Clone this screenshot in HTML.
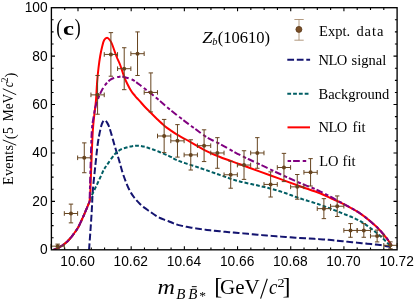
<!DOCTYPE html>
<html><head><meta charset="utf-8"><title>plot</title>
<style>
html,body{margin:0;padding:0;background:#fff;}
body{width:415px;height:304px;overflow:hidden;font-family:"Liberation Sans",sans-serif;}
svg{display:block;will-change:transform;}
.tk{font-family:"Liberation Sans",sans-serif;font-size:14.2px;fill:#000;}
.se{font-family:"Liberation Serif",serif;fill:#000;}
</style></head><body>
<svg width="415" height="304" viewBox="0 0 415 304">
<rect width="415" height="304" fill="#fff"/>
<defs><clipPath id="cp"><rect x="51.4" y="7.7" width="345.7" height="242.1"/></clipPath></defs>
<g clip-path="url(#cp)" fill="none" stroke-linejoin="round">
<path d="M89.10 249.00 C89.33 245.83 90.05 236.50 90.50 230.00 C90.95 223.50 91.42 216.50 91.80 210.00 C92.18 203.50 92.23 198.17 92.80 191.00 C93.37 183.83 94.37 174.92 95.20 167.00 C96.03 159.08 96.92 149.83 97.80 143.50 C98.68 137.17 99.72 132.50 100.50 129.00 C101.28 125.50 101.80 123.95 102.50 122.50 C103.20 121.05 103.95 120.30 104.70 120.30 C105.45 120.30 106.17 121.13 107.00 122.50 C107.83 123.87 108.43 124.67 109.70 128.50 C110.97 132.33 113.05 140.25 114.60 145.50 C116.15 150.75 117.48 154.92 119.00 160.00 C120.52 165.08 121.78 170.67 123.70 176.00 C125.62 181.33 127.78 187.33 130.50 192.00 C133.22 196.67 136.42 200.50 140.00 204.00 C143.58 207.50 148.67 210.67 152.00 213.00 C155.33 215.33 157.33 216.67 160.00 218.00 C162.67 219.33 164.67 219.77 168.00 221.00 C171.33 222.23 174.67 224.07 180.00 225.40 C185.33 226.73 193.33 228.02 200.00 229.00 C206.67 229.98 212.83 230.57 220.00 231.30 C227.17 232.03 233.00 232.52 243.00 233.40 C253.00 234.28 266.67 235.60 280.00 236.60 C293.33 237.60 313.00 238.67 323.00 239.40 C333.00 240.13 333.83 240.40 340.00 241.00 C346.17 241.60 353.33 242.33 360.00 243.00 C366.67 243.67 375.00 244.33 380.00 245.00 C385.00 245.67 388.33 246.67 390.00 247.00" stroke="#141470" stroke-width="2.0" stroke-dasharray="4.75 4.75" stroke-linecap="square"/>
<path d="M54.00 249.60 C54.58 249.38 56.40 248.82 57.50 248.30 C58.60 247.78 59.40 247.27 60.60 246.50 C61.80 245.73 63.33 244.78 64.70 243.70 C66.07 242.62 67.43 241.45 68.80 240.00 C70.17 238.55 71.53 236.78 72.90 235.00 C74.27 233.22 75.95 230.90 77.00 229.30 C78.05 227.70 77.88 228.15 79.20 225.40 C80.52 222.65 83.17 216.78 84.90 212.80 C86.63 208.82 88.82 203.38 89.60 201.50 L89.60 201.50 C90.00 200.42 90.97 197.42 92.00 195.00 C93.03 192.58 94.47 189.83 95.80 187.00 C97.13 184.17 98.68 180.83 100.00 178.00 C101.32 175.17 102.55 172.17 103.70 170.00 C104.85 167.83 105.08 167.60 106.90 165.00 C108.72 162.40 112.42 156.92 114.60 154.40 C116.78 151.88 117.90 151.08 120.00 149.90 C122.10 148.72 125.03 147.93 127.20 147.30 C129.37 146.67 131.13 146.35 133.00 146.10 C134.87 145.85 136.47 145.70 138.40 145.80 C140.33 145.90 142.73 146.27 144.60 146.70 C146.47 147.13 147.87 147.82 149.60 148.40 C151.33 148.98 151.77 148.93 155.00 150.20 C158.23 151.47 165.00 154.20 169.00 156.00 C173.00 157.80 173.83 159.00 179.00 161.00 C184.17 163.00 193.17 165.67 200.00 168.00 C206.83 170.33 213.67 172.83 220.00 175.00 C226.33 177.17 231.33 179.17 238.00 181.00 C244.67 182.83 253.00 184.28 260.00 186.00 C267.00 187.72 273.33 189.23 280.00 191.30 C286.67 193.37 293.33 196.17 300.00 198.40 C306.67 200.63 314.17 202.70 320.00 204.70 C325.83 206.70 331.00 208.85 335.00 210.40 C339.00 211.95 341.00 212.80 344.00 214.00 C347.00 215.20 350.00 216.23 353.00 217.60 C356.00 218.97 359.00 220.38 362.00 222.20 C365.00 224.02 368.00 226.23 371.00 228.50 C374.00 230.77 377.55 233.68 380.00 235.80 C382.45 237.92 384.12 239.67 385.70 241.20 C387.28 242.73 388.87 244.37 389.50 245.00" stroke="#005e64" stroke-width="2.0" stroke-dasharray="1.8 4" stroke-linecap="square"/>
<path d="M54.00 249.60 C54.58 249.38 56.40 248.82 57.50 248.30 C58.60 247.78 59.40 247.27 60.60 246.50 C61.80 245.73 63.33 244.78 64.70 243.70 C66.07 242.62 67.43 241.45 68.80 240.00 C70.17 238.55 71.53 236.78 72.90 235.00 C74.27 233.22 75.95 230.90 77.00 229.30 C78.05 227.70 77.88 228.15 79.20 225.40 C80.52 222.65 83.17 216.78 84.90 212.80 C86.63 208.82 88.82 203.38 89.60 201.50 L89.60 201.50 C89.73 199.58 90.12 196.08 90.40 190.00 C90.68 183.92 90.90 174.83 91.30 165.00 C91.70 155.17 92.30 139.33 92.80 131.00 C93.30 122.67 93.77 120.17 94.30 115.00 C94.83 109.83 95.52 105.67 96.00 100.00 C96.48 94.33 96.78 86.33 97.20 81.00 C97.62 75.67 98.00 72.17 98.50 68.00 C99.00 63.83 99.57 59.67 100.20 56.00 C100.83 52.33 101.63 48.67 102.30 46.00 C102.97 43.33 103.40 41.37 104.20 40.00 C105.00 38.63 106.17 37.80 107.10 37.80 C108.03 37.80 108.95 38.88 109.80 40.00 C110.65 41.12 111.12 41.83 112.20 44.50 C113.28 47.17 114.97 52.58 116.30 56.00 C117.63 59.42 118.88 61.53 120.20 65.00 C121.52 68.47 122.98 73.60 124.20 76.80 C125.42 80.00 126.30 81.78 127.50 84.20 C128.70 86.62 130.15 89.37 131.40 91.30 C132.65 93.23 133.90 94.48 135.00 95.80 C136.10 97.12 137.17 98.27 138.00 99.20 C138.83 100.13 138.83 100.10 140.00 101.40 C141.17 102.70 143.25 105.15 145.00 107.00 C146.75 108.85 148.50 110.50 150.50 112.50 C152.50 114.50 154.70 116.80 157.00 119.00 C159.30 121.20 161.97 123.77 164.30 125.70 C166.63 127.63 168.80 129.07 171.00 130.60 C173.20 132.13 175.00 133.42 177.50 134.90 C180.00 136.38 181.42 136.93 186.00 139.50 C190.58 142.07 199.33 147.38 205.00 150.30 C210.67 153.22 214.17 154.67 220.00 157.00 C225.83 159.33 233.33 161.87 240.00 164.30 C246.67 166.73 253.33 169.17 260.00 171.60 C266.67 174.03 273.33 176.47 280.00 178.90 C286.67 181.33 293.33 183.80 300.00 186.20 C306.67 188.60 314.67 191.20 320.00 193.30 C325.33 195.40 328.67 197.30 332.00 198.80 C335.33 200.30 335.33 199.88 340.00 202.30 C344.67 204.72 354.00 209.30 360.00 213.30 C366.00 217.30 371.67 222.30 376.00 226.30 C380.33 230.30 383.50 234.27 386.00 237.30 C388.50 240.33 390.17 243.30 391.00 244.50" stroke="#ff0000" stroke-width="2.0" stroke-linecap="round"/>
<path d="M54.00 249.60 C54.58 249.38 56.40 248.82 57.50 248.30 C58.60 247.78 59.40 247.27 60.60 246.50 C61.80 245.73 63.33 244.78 64.70 243.70 C66.07 242.62 67.43 241.45 68.80 240.00 C70.17 238.55 71.53 236.78 72.90 235.00 C74.27 233.22 75.95 230.90 77.00 229.30 C78.05 227.70 77.88 228.15 79.20 225.40 C80.52 222.65 83.17 216.78 84.90 212.80 C86.63 208.82 88.82 203.38 89.60 201.50 L89.60 201.50 C89.65 199.58 89.73 196.08 89.90 190.00 C90.07 183.92 90.28 174.83 90.60 165.00 C90.92 155.17 91.30 139.00 91.80 131.00 C92.30 123.00 92.85 121.50 93.60 117.00 C94.35 112.50 94.90 108.50 96.30 104.00 C97.70 99.50 99.72 94.00 102.00 90.00 C104.28 86.00 107.00 82.23 110.00 80.00 C113.00 77.77 117.50 77.05 120.00 76.60 C122.50 76.15 122.83 76.73 125.00 77.30 C127.17 77.87 130.67 78.83 133.00 80.00 C135.33 81.17 135.33 81.50 139.00 84.30 C142.67 87.10 150.00 92.72 155.00 96.80 C160.00 100.88 164.33 104.97 169.00 108.80 C173.67 112.63 178.67 116.47 183.00 119.80 C187.33 123.13 190.83 125.77 195.00 128.80 C199.17 131.83 203.83 135.47 208.00 138.00 C212.17 140.53 214.67 141.17 220.00 144.00 C225.33 146.83 233.33 151.58 240.00 155.00 C246.67 158.42 253.33 161.33 260.00 164.50 C266.67 167.67 273.33 170.92 280.00 174.00 C286.67 177.08 293.33 180.12 300.00 183.00 C306.67 185.88 312.83 187.87 320.00 191.30 C327.17 194.73 336.33 199.93 343.00 203.60 C349.67 207.27 354.50 209.52 360.00 213.30 C365.50 217.08 371.67 222.30 376.00 226.30 C380.33 230.30 383.50 234.27 386.00 237.30 C388.50 240.33 390.17 243.30 391.00 244.50" stroke="#800080" stroke-width="2.0" stroke-dasharray="1.5 4 4.7 4.9" stroke-linecap="square"/>
</g>
<g stroke="#66441f" stroke-width="1" fill="none">
<path d="M57.66 244.11 V248.23 M55.46 244.11 H59.86 M55.46 248.23 H59.86 M51.01 246.17 H64.30 M51.01 243.87 V248.47 M64.30 243.87 V248.47"/><circle cx="57.66" cy="246.17" r="2.0" fill="#66441f" stroke="none"/>
<path d="M70.97 204.11 V222.86 M68.77 204.11 H73.17 M68.77 222.86 H73.17 M64.32 213.49 H77.62 M64.32 211.19 V215.79 M77.62 211.19 V215.79"/><circle cx="70.97" cy="213.49" r="2.0" fill="#66441f" stroke="none"/>
<path d="M84.28 142.88 V172.73 M82.08 142.88 H86.48 M82.08 172.73 H86.48 M77.63 157.80 H90.93 M77.63 155.50 V160.10 M90.93 155.50 V160.10"/><circle cx="84.28" cy="157.80" r="2.0" fill="#66441f" stroke="none"/>
<path d="M97.59 75.49 V114.22 M95.39 75.49 H99.79 M95.39 114.22 H99.79 M90.94 94.86 H104.24 M90.94 92.56 V97.16 M104.24 92.56 V97.16"/><circle cx="97.59" cy="94.86" r="2.0" fill="#66441f" stroke="none"/>
<path d="M110.90 32.64 V76.21 M108.70 32.64 H113.10 M108.70 76.21 H113.10 M104.25 54.43 H117.55 M104.25 52.13 V56.73 M117.55 52.13 V56.73"/><circle cx="110.90" cy="54.43" r="2.0" fill="#66441f" stroke="none"/>
<path d="M124.21 47.74 V89.68 M122.01 47.74 H126.41 M122.01 89.68 H126.41 M117.57 68.71 H130.86 M117.57 66.41 V71.01 M130.86 66.41 V71.01"/><circle cx="124.21" cy="68.71" r="2.0" fill="#66441f" stroke="none"/>
<path d="M137.53 31.91 V75.49 M135.33 31.91 H139.73 M135.33 75.49 H139.73 M130.88 53.70 H144.17 M130.88 51.40 V56.00 M144.17 51.40 V56.00"/><circle cx="137.53" cy="53.70" r="2.0" fill="#66441f" stroke="none"/>
<path d="M150.84 72.92 V111.95 M148.64 72.92 H153.04 M148.64 111.95 H153.04 M144.19 92.44 H157.48 M144.19 90.14 V94.73 M157.48 90.14 V94.73"/><circle cx="150.84" cy="92.44" r="2.0" fill="#66441f" stroke="none"/>
<path d="M164.15 119.42 V152.61 M161.95 119.42 H166.35 M161.95 152.61 H166.35 M157.50 136.01 H170.80 M157.50 133.71 V138.31 M170.80 133.71 V138.31"/><circle cx="164.15" cy="136.01" r="2.0" fill="#66441f" stroke="none"/>
<path d="M177.46 124.61 V157.10 M175.26 124.61 H179.66 M175.26 157.10 H179.66 M170.81 140.85 H184.11 M170.81 138.55 V143.16 M184.11 138.55 V143.16"/><circle cx="177.46" cy="140.85" r="2.0" fill="#66441f" stroke="none"/>
<path d="M190.77 139.78 V170.02 M188.57 139.78 H192.97 M188.57 170.02 H192.97 M184.12 154.90 H197.42 M184.12 152.60 V157.20 M197.42 152.60 V157.20"/><circle cx="190.77" cy="154.90" r="2.0" fill="#66441f" stroke="none"/>
<path d="M204.08 129.82 V161.57 M201.88 129.82 H206.28 M201.88 161.57 H206.28 M197.43 145.70 H210.73 M197.43 143.40 V148.00 M210.73 143.40 V148.00"/><circle cx="204.08" cy="145.70" r="2.0" fill="#66441f" stroke="none"/>
<path d="M217.39 137.65 V168.27 M215.19 137.65 H219.59 M215.19 168.27 H219.59 M210.75 152.96 H224.04 M210.75 150.66 V155.26 M224.04 150.66 V155.26"/><circle cx="217.39" cy="152.96" r="2.0" fill="#66441f" stroke="none"/>
<path d="M230.71 161.27 V188.23 M228.51 161.27 H232.91 M228.51 188.23 H232.91 M224.06 174.75 H237.35 M224.06 172.45 V177.05 M237.35 172.45 V177.05"/><circle cx="230.71" cy="174.75" r="2.0" fill="#66441f" stroke="none"/>
<path d="M244.02 150.74 V179.39 M241.82 150.74 H246.22 M241.82 179.39 H246.22 M237.37 165.06 H250.67 M237.37 162.76 V167.37 M250.67 162.76 V167.37"/><circle cx="244.02" cy="165.06" r="2.0" fill="#66441f" stroke="none"/>
<path d="M257.33 137.65 V168.27 M255.13 137.65 H259.53 M255.13 168.27 H259.53 M250.68 152.96 H263.98 M250.68 150.66 V155.26 M263.98 150.66 V155.26"/><circle cx="257.33" cy="152.96" r="2.0" fill="#66441f" stroke="none"/>
<path d="M270.64 171.85 V197.01 M268.44 171.85 H272.84 M268.44 197.01 H272.84 M263.99 184.43 H277.29 M263.99 182.13 V186.73 M277.29 182.13 V186.73"/><circle cx="270.64" cy="184.43" r="2.0" fill="#66441f" stroke="none"/>
<path d="M283.95 153.37 V181.60 M281.75 153.37 H286.15 M281.75 181.60 H286.15 M277.30 167.49 H290.60 M277.30 165.19 V169.79 M290.60 165.19 V169.79"/><circle cx="283.95" cy="167.49" r="2.0" fill="#66441f" stroke="none"/>
<path d="M297.26 174.51 V199.20 M295.06 174.51 H299.46 M295.06 199.20 H299.46 M290.62 186.85 H303.91 M290.62 184.55 V189.15 M303.91 184.55 V189.15"/><circle cx="297.26" cy="186.85" r="2.0" fill="#66441f" stroke="none"/>
<path d="M310.58 158.63 V186.02 M308.38 158.63 H312.78 M308.38 186.02 H312.78 M303.93 172.33 H317.22 M303.93 170.03 V174.63 M317.22 170.03 V174.63"/><circle cx="310.58" cy="172.33" r="2.0" fill="#66441f" stroke="none"/>
<path d="M323.89 198.66 V218.63 M321.69 198.66 H326.09 M321.69 218.63 H326.09 M317.24 208.64 H330.53 M317.24 206.34 V210.94 M330.53 206.34 V210.94"/><circle cx="323.89" cy="208.64" r="2.0" fill="#66441f" stroke="none"/>
<path d="M337.20 195.95 V216.49 M335.00 195.95 H339.40 M335.00 216.49 H339.40 M330.55 206.22 H343.85 M330.55 203.92 V208.52 M343.85 203.92 V208.52"/><circle cx="337.20" cy="206.22" r="2.0" fill="#66441f" stroke="none"/>
<path d="M350.51 223.58 V237.28 M348.31 223.58 H352.71 M348.31 237.28 H352.71 M343.86 230.43 H357.16 M343.86 228.13 V232.73 M357.16 228.13 V232.73"/><circle cx="350.51" cy="230.43" r="2.0" fill="#66441f" stroke="none"/>
<path d="M363.82 223.58 V237.28 M361.62 223.58 H366.02 M361.62 237.28 H366.02 M357.17 230.43 H370.47 M357.17 228.13 V232.73 M370.47 228.13 V232.73"/><circle cx="363.82" cy="230.43" r="2.0" fill="#66441f" stroke="none"/>
<path d="M377.13 230.07 V241.93 M374.93 230.07 H379.33 M374.93 241.93 H379.33 M370.48 236.00 H383.78 M370.48 233.70 V238.30 M383.78 233.70 V238.30"/><circle cx="377.13" cy="236.00" r="2.0" fill="#66441f" stroke="none"/>
<path d="M390.44 241.90 V248.74 M388.24 241.90 H392.64 M388.24 248.74 H392.64 M383.80 245.32 H397.09 M383.80 243.02 V247.62 M397.09 243.02 V247.62"/><circle cx="390.44" cy="245.32" r="2.0" fill="#66441f" stroke="none"/>
</g>
<g stroke="#000" stroke-width="1.35" fill="none">
<rect x="51.40" y="7.70" width="345.70" height="242.10"/>
<path d="M64.70 249.80 v-2.20 M64.70 7.70 v2.20 M77.99 249.80 v-3.60 M77.99 7.70 v3.60 M91.29 249.80 v-2.20 M91.29 7.70 v2.20 M104.58 249.80 v-2.20 M104.58 7.70 v2.20 M117.88 249.80 v-2.20 M117.88 7.70 v2.20 M131.18 249.80 v-3.60 M131.18 7.70 v3.60 M144.47 249.80 v-2.20 M144.47 7.70 v2.20 M157.77 249.80 v-2.20 M157.77 7.70 v2.20 M171.07 249.80 v-2.20 M171.07 7.70 v2.20 M184.36 249.80 v-3.60 M184.36 7.70 v3.60 M197.66 249.80 v-2.20 M197.66 7.70 v2.20 M210.95 249.80 v-2.20 M210.95 7.70 v2.20 M224.25 249.80 v-2.20 M224.25 7.70 v2.20 M237.55 249.80 v-3.60 M237.55 7.70 v3.60 M250.84 249.80 v-2.20 M250.84 7.70 v2.20 M264.14 249.80 v-2.20 M264.14 7.70 v2.20 M277.43 249.80 v-2.20 M277.43 7.70 v2.20 M290.73 249.80 v-3.60 M290.73 7.70 v3.60 M304.03 249.80 v-2.20 M304.03 7.70 v2.20 M317.32 249.80 v-2.20 M317.32 7.70 v2.20 M330.62 249.80 v-2.20 M330.62 7.70 v2.20 M343.92 249.80 v-3.60 M343.92 7.70 v3.60 M357.21 249.80 v-2.20 M357.21 7.70 v2.20 M370.51 249.80 v-2.20 M370.51 7.70 v2.20 M383.80 249.80 v-2.20 M383.80 7.70 v2.20 M51.40 237.70 h2.20 M397.10 237.70 h-2.20 M51.40 225.59 h2.20 M397.10 225.59 h-2.20 M51.40 213.49 h2.20 M397.10 213.49 h-2.20 M51.40 201.38 h3.60 M397.10 201.38 h-3.60 M51.40 189.28 h2.20 M397.10 189.28 h-2.20 M51.40 177.17 h2.20 M397.10 177.17 h-2.20 M51.40 165.06 h2.20 M397.10 165.06 h-2.20 M51.40 152.96 h3.60 M397.10 152.96 h-3.60 M51.40 140.85 h2.20 M397.10 140.85 h-2.20 M51.40 128.75 h2.20 M397.10 128.75 h-2.20 M51.40 116.64 h2.20 M397.10 116.64 h-2.20 M51.40 104.54 h3.60 M397.10 104.54 h-3.60 M51.40 92.44 h2.20 M397.10 92.44 h-2.20 M51.40 80.33 h2.20 M397.10 80.33 h-2.20 M51.40 68.23 h2.20 M397.10 68.23 h-2.20 M51.40 56.12 h3.60 M397.10 56.12 h-3.60 M51.40 44.01 h2.20 M397.10 44.01 h-2.20 M51.40 31.91 h2.20 M397.10 31.91 h-2.20 M51.40 19.80 h2.20 M397.10 19.80 h-2.20 " stroke-width="1.1"/>
</g>
<text class="tk" transform="translate(77.59 265.6) scale(0.97 1)" text-anchor="middle">10.60</text>
<text class="tk" transform="translate(130.78 265.6) scale(0.97 1)" text-anchor="middle">10.62</text>
<text class="tk" transform="translate(183.96 265.6) scale(0.97 1)" text-anchor="middle">10.64</text>
<text class="tk" transform="translate(237.15 265.6) scale(0.97 1)" text-anchor="middle">10.66</text>
<text class="tk" transform="translate(290.33 265.6) scale(0.97 1)" text-anchor="middle">10.68</text>
<text class="tk" transform="translate(343.52 265.6) scale(0.97 1)" text-anchor="middle">10.70</text>
<text class="tk" transform="translate(396.70 265.6) scale(0.97 1)" text-anchor="middle">10.72</text>
<text class="tk" transform="translate(47.6 254.20) scale(0.97 1)" text-anchor="end">0</text>
<text class="tk" transform="translate(47.6 205.78) scale(0.97 1)" text-anchor="end">20</text>
<text class="tk" transform="translate(47.6 157.36) scale(0.97 1)" text-anchor="end">40</text>
<text class="tk" transform="translate(47.6 108.94) scale(0.97 1)" text-anchor="end">60</text>
<text class="tk" transform="translate(47.6 60.52) scale(0.97 1)" text-anchor="end">80</text>
<text class="tk" transform="translate(47.6 12.10) scale(0.97 1)" text-anchor="end">100</text>
<g>
<path d="M299 19.5 V40.2 M294.4 19.5 H303.7 M294.4 40.2 H303.7" stroke="#a08060" stroke-width="0.8" fill="none"/>
<circle cx="298.9" cy="29.4" r="3.0" fill="#7a4e26" stroke="#5a3a1c" stroke-width="0.8"/>
<path d="M288.3 59.8 H309.1" stroke="#141470" stroke-width="2" stroke-dasharray="4.75 4.75" stroke-linecap="square" fill="none"/>
<path d="M288.3 93.7 H309.1" stroke="#005e64" stroke-width="2" stroke-dasharray="1.8 4" stroke-linecap="square" fill="none"/>
<path d="M288.5 127.35 H309" stroke="#ff0000" stroke-width="2" stroke-linecap="square" fill="none"/>
<path d="M288.6 161.1 H309.1" stroke="#800080" stroke-width="2" stroke-dasharray="1.5 4 4.7 4.9" stroke-linecap="square" fill="none"/>
<text class="se" font-size="14.5" y="35.6"><tspan x="319.1">Expt.</tspan><tspan x="356.4" letter-spacing="0.95">data</tspan></text>
<text class="se" font-size="14.5" y="65"><tspan x="318.6" letter-spacing="-0.6">NLO</tspan><tspan x="351.6">signal</tspan></text>
<text class="se" font-size="14.5" y="99" x="318.5">Background</text>
<text class="se" font-size="14.5" y="132.4"><tspan x="318.6" letter-spacing="-0.6">NLO</tspan><tspan x="352.6">fit</tspan></text>
<text class="se" font-size="14.5" y="166"><tspan x="319.2">LO</tspan><tspan x="342.6">fit</tspan></text>
</g>
<text class="se" transform="translate(56.3 35) scale(0.78 1)" font-size="23">(</text>
<text class="se" transform="translate(63.0 34.6) scale(1.27 1)" font-size="19.5" font-weight="bold">c</text>
<text class="se" transform="translate(74.7 35) scale(0.78 1)" font-size="23">)</text>
<text class="se" transform="translate(202.3 42.5) scale(1.12 1)" font-size="16.5" font-style="italic">Z</text>
<text class="se" x="212.2" y="45.4" font-size="10.5" font-style="italic">b</text>
<text class="se" x="217.8" y="42.5" font-size="16.5">(10610)</text>
<text class="se" transform="translate(157.60 294.30) scale(1.150 1.000)" font-size="21.0" font-style="italic">m</text>
<text class="se" transform="translate(176.20 298.80) scale(1.100 1.000)" font-size="13.6" font-style="italic">B</text>
<text class="se" transform="translate(188.30 298.80) scale(1.100 1.000)" font-size="13.6" font-style="italic">B</text>
<path d="M191.8 286.6 H196.7" stroke="#000" stroke-width="0.9" fill="none"/>
<path d="M192.0 288.3 H196.5" stroke="#999" stroke-width="0.7" fill="none"/>
<text class="se" transform="translate(199.20 300.20) scale(1.000 1.000)" font-size="13.5" >*</text>
<text class="se" transform="translate(214.30 294.20) scale(1.000 1.000)" font-size="24.0" >[</text>
<text class="se" transform="translate(220.00 294.40) scale(1.000 1.000)" font-size="21.0" >GeV</text>
<path d="M260.6 298.6 L267.3 278.8" stroke="#000" stroke-width="1.1" fill="none"/>
<text class="se" transform="translate(269.00 294.40) scale(0.900 1.000)" font-size="21.0" font-style="italic">c</text>
<text class="se" transform="translate(277.40 287.40) scale(1.050 1.000)" font-size="13.5" >2</text>
<text class="se" transform="translate(282.40 294.20) scale(1.000 1.000)" font-size="24.0" >]</text>
<g transform="translate(13 184.9) rotate(-90)">
<text class="se" transform="translate(0.00 0.00) scale(1.000 1.000)" font-size="14.0" letter-spacing="0.35">Events</text>
<path d="M39.7 3.2 L45.0 -10.2" stroke="#000" stroke-width="0.9" fill="none"/>
<text class="se" transform="translate(45.60 2.40) scale(0.950 1.000)" font-size="15.5" >(</text>
<text class="se" transform="translate(50.80 0.00) scale(0.950 1.000)" font-size="14.0" >5</text>
<text class="se" transform="translate(63.60 0.00) scale(0.960 1.000)" font-size="14.0" >MeV</text>
<path d="M90.2 3.2 L96.2 -10.2" stroke="#000" stroke-width="0.9" fill="none"/>
<text class="se" transform="translate(97.60 0.00) scale(0.900 1.000)" font-size="14.0" font-style="italic">c</text>
<text class="se" transform="translate(102.60 -5.40) scale(1.000 1.000)" font-size="9.5" >2</text>
<text class="se" transform="translate(107.40 2.40) scale(0.950 1.000)" font-size="15.5" >)</text>
</g>
</svg>
</body></html>
